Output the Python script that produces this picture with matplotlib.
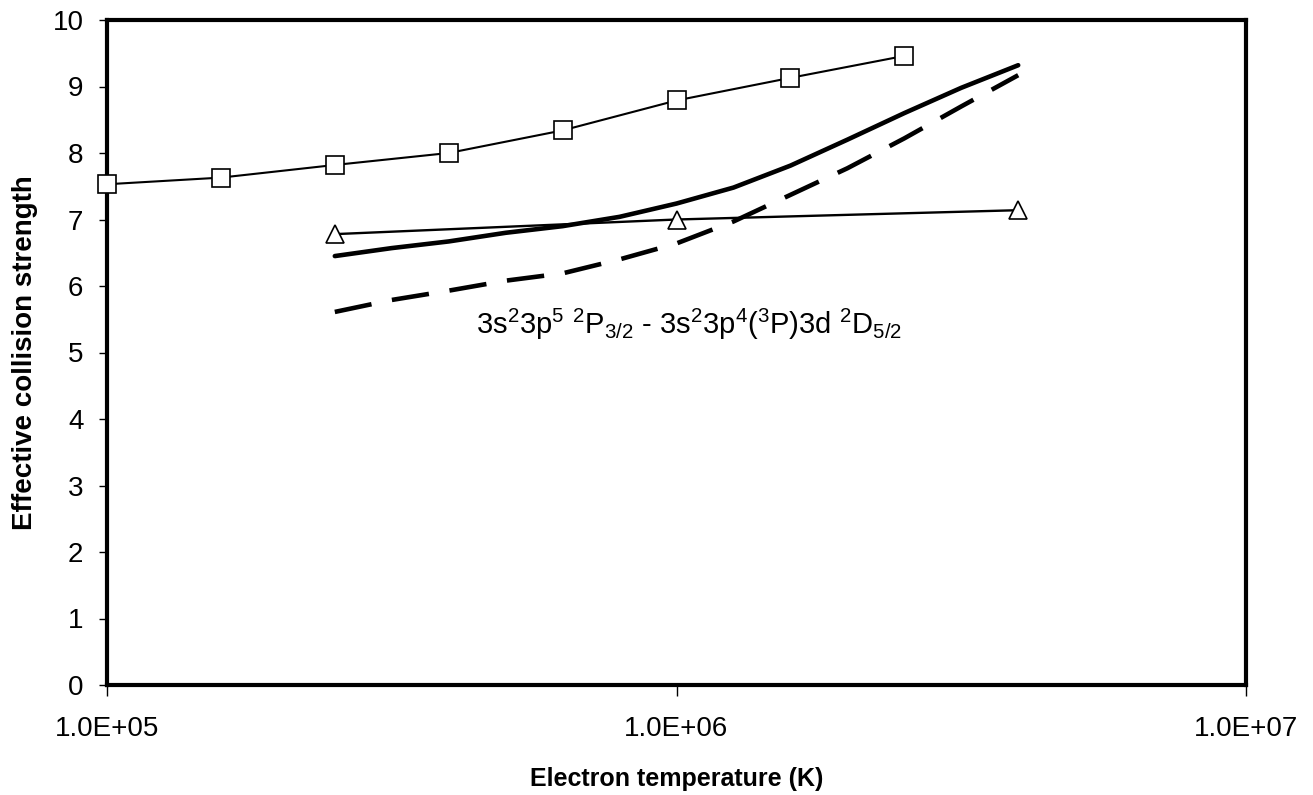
import matplotlib
matplotlib.use("Agg")
import matplotlib.pyplot as plt
from matplotlib.ticker import FixedLocator, FuncFormatter, NullLocator

plt.rcParams["font.family"] = ["Liberation Sans", "DejaVu Sans"]
plt.rcParams["mathtext.fontset"] = "custom"
plt.rcParams["mathtext.rm"] = "Liberation Sans"
plt.rcParams["mathtext.it"] = "Liberation Sans"
plt.rcParams["lines.scale_dashes"] = False

# ── data ────────────────────────────────────────────────────────────────── #
T_sq = [1.0e5, 1.585e5, 2.512e5, 3.981e5, 6.310e5, 1.0e6, 1.585e6, 2.512e6]
ups_sq = [7.53, 7.63, 7.82, 8.00, 8.34, 8.79, 9.13, 9.46]

T_tri = [2.512e5, 1.0e6, 3.981e6]
ups_tri = [6.78, 7.00, 7.14]

T_curve = [2.512e5, 3.162e5, 3.981e5, 5.012e5, 6.310e5, 7.943e5, 1.0e6,
           1.259e6, 1.585e6, 1.995e6, 2.512e6, 3.162e6, 3.981e6]
ups_solid = [6.45, 6.57, 6.67, 6.80, 6.90, 7.04, 7.24,
             7.48, 7.81, 8.20, 8.60, 8.98, 9.32]
ups_dashed = [5.61, 5.79, 5.93, 6.08, 6.19, 6.40, 6.64,
              6.97, 7.37, 7.77, 8.22, 8.70, 9.17]

x_ticks = [1.0e5, 1.0e6, 1.0e7]
y_ticks = list(range(0, 11))

label = (r"3s$^2$3p$^5$ $^2$P$_{3/2}$ - "
         r"3s$^2$3p$^4$($^3$P)3d $^2$D$_{5/2}$")

# ── figure ──────────────────────────────────────────────────────────────── #
fig = plt.figure(figsize=(13.13, 7.95), dpi=100)
ax = fig.add_axes([107 / 1313, 1 - 685 / 795, (1246 - 107) / 1313, (685 - 20) / 795])

ax.plot(T_sq, ups_sq, color="black", lw=1.5, marker="s", ms=12.5,
        mfc="white", mec="black", mew=1.2, zorder=3, clip_on=False)
ax.plot(T_tri, ups_tri, color="black", lw=1.7, marker="^", ms=13,
        mfc="white", mec="black", mew=1.2, zorder=3, clip_on=False)
ax.plot(T_curve, ups_solid, color="black", lw=3.3, solid_capstyle="round",
        solid_joinstyle="round", zorder=2)
ax.plot(T_curve, ups_dashed, color="black", lw=3.3, dashes=(27, 15), zorder=2)

ax.text(1.05e6, 5.42, label, ha="center", va="center", fontsize=21)

# ── axes ────────────────────────────────────────────────────────────────── #
ax.set_xscale("log")
ax.set_xlim(1.0e5, 1.0e7)
ax.set_ylim(0, 10)
ax.xaxis.set_major_locator(FixedLocator(x_ticks))
ax.xaxis.set_minor_locator(NullLocator())
ax.xaxis.set_major_formatter(FuncFormatter(lambda v, p: f"{v:.1E}"))
ax.set_yticks(y_ticks)

for s in ax.spines.values():
    s.set_linewidth(3.0)
ax.tick_params(axis="x", direction="out", length=8, width=1, labelsize=20, pad=14)
ax.tick_params(axis="y", direction="out", length=6, width=1, labelsize=20, pad=11)

ax.set_xlabel("Electron temperature (K)", fontsize=18, fontweight="bold", labelpad=18)
ax.set_ylabel("Effective collision strength", fontsize=20, fontweight="bold", labelpad=10)

fig.savefig("out.png", dpi=100)
